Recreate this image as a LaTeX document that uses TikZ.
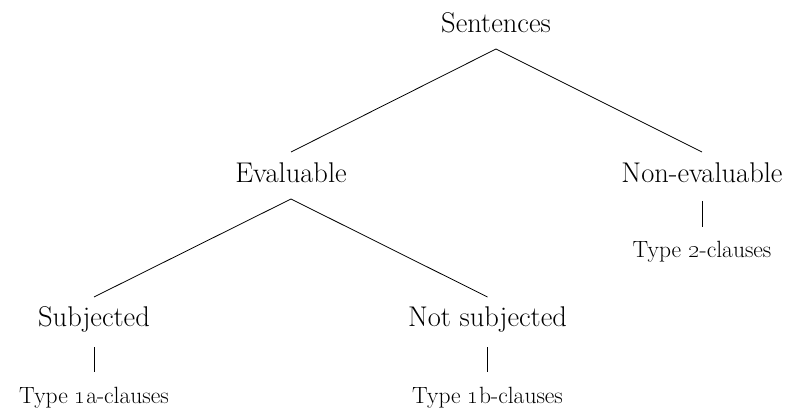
\documentclass[tikz,border=0pt]{standalone}
\begin{document}
\begin{tikzpicture}[x=1pt,y=1pt,
  big/.style={inner sep=0pt,anchor=base,font=\fontsize{28.5}{34}\selectfont},
  small/.style={inner sep=0pt,anchor=base,font=\fontsize{23.5}{28}\selectfont},
  edge/.style={line width=0.8pt}]
\useasboundingbox (0,0) rectangle (799,412);
% y = 412 - pixel row
\node[big] (s)  at (496,379) {Sentences};
\node[big] (e)  at (291,229) {Evaluable};
\node[big] (ne) at (702,229) {Non-evaluable};
\node[big] (sj) at (94,85)   {Subjected};
\node[big] (ns) at (487.5,85)  {Not subjected};
\node[small] (t2) at (702,154) {Type \oldstylenums{2}-clauses};
\node[small] (ta) at (94,9)    {Type \oldstylenums{1}a-clauses};
\node[small] (tb) at (487.5,9)   {Type \oldstylenums{1}b-clauses};
\draw[edge] ([yshift=-16pt]s.base) -- ([yshift=31pt]e.base);
\draw[edge] ([yshift=-16pt]s.base) -- ([yshift=31pt]ne.base);
\draw[edge] ([yshift=-16pt]e.base) -- ([yshift=30pt]sj.base);
\draw[edge] ([yshift=-16pt]e.base) -- ([yshift=30pt]ns.base);
\draw[edge] ([yshift=-18pt]ne.base) -- ([yshift=31pt]t2.base);
\draw[edge] ([yshift=-20pt]sj.base) -- ([yshift=31pt]ta.base);
\draw[edge] ([yshift=-20pt]ns.base) -- ([yshift=31pt]tb.base);
\end{tikzpicture}
\end{document}
